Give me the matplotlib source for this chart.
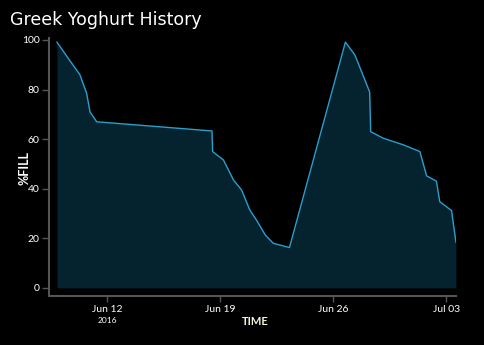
import pandas as pd
import matplotlib
matplotlib.use('Agg')
import matplotlib.pyplot as plt

# Readings taken off the chart
times = [
    '2016-06-08 22:00', '2016-06-09 17:30', '2016-06-10 08:00', '2016-06-10 18:00',
    '2016-06-10 23:00', '2016-06-11 09:00', '2016-06-18 12:00', '2016-06-18 13:00',
    '2016-06-19 05:00', '2016-06-19 20:00', '2016-06-20 08:00', '2016-06-20 20:00',
    '2016-06-21 06:00', '2016-06-21 19:00', '2016-06-22 07:00', '2016-06-23 07:00',
    '2016-06-26 18:00', '2016-06-27 08:00', '2016-06-27 18:00', '2016-06-28 06:00',
    '2016-06-28 07:30', '2016-06-29 02:00', '2016-06-30 08:00', '2016-07-01 08:30',
    '2016-07-01 18:30', '2016-07-02 09:00', '2016-07-02 14:00', '2016-07-03 07:30',
    '2016-07-03 14:00',
]
fill_pct = [
    99.1, 91.5, 86.0, 78.5, 71.0, 67.0, 63.3, 55.0,
    51.6, 43.5, 39.5, 31.5, 27.4, 21.4, 18.0, 16.3,
    99.1, 94.0, 87.2, 79.0, 63.0, 60.4, 57.7, 55.0,
    45.2, 43.1, 34.8, 31.2, 18.5,
]
yticks = [0, 20, 40, 60, 80, 100]
xticks = ['2016-06-12', '2016-06-19', '2016-06-26', '2016-07-03']
xtick_labels = ['Jun 12', 'Jun 19', 'Jun 26', 'Jul 03']

df = pd.DataFrame({'time': pd.to_datetime(times), 'fill': fill_pct})

plt.rcParams['font.family'] = ['Lato', 'DejaVu Sans']

fig = plt.figure(figsize=(4.84, 3.45), dpi=100, facecolor='black')
ax = fig.add_axes([0.101, 0.143, 0.841, 0.747], facecolor='black')

ax.fill_between(df['time'], df['fill'], 0, color='#05222f', linewidth=0)
ax.plot(df['time'], df['fill'], color='#2a9fcc', linewidth=1.0)

ax.set_ylim(-3.1, 100.8)
ax.set_xlim(df['time'].iloc[0] - pd.Timedelta(hours=12), df['time'].iloc[-1])

ax.set_yticks(yticks)
ax.set_xticks(pd.to_datetime(xticks))
ax.set_xticklabels(xtick_labels)

for side in ['top', 'right']:
    ax.spines[side].set_visible(False)
for side in ['left', 'bottom']:
    ax.spines[side].set_color('#555555')
    ax.spines[side].set_linewidth(1.5)

ax.tick_params(colors='#555555', labelcolor='white', labelsize=7.5, length=5, width=1)
ax.tick_params(axis='y', pad=1.5)
ax.tick_params(axis='x', pad=3, length=4)

# axis labels and title placed as in the reference
fig.text(0.05, 0.513, '%FILL', color='white', fontsize=9, fontweight='bold',
         rotation=90, ha='center', va='center')
fig.text(0.528, 0.067, 'TIME', color='#f4f2dc', fontsize=8, fontweight='bold',
         ha='center', va='center')
fig.text(0.221, 0.07, '2016', color='white', fontsize=6, ha='center', va='center')
fig.text(0.02, 0.942, 'Greek Yoghurt History', color='white', fontsize=12.5,
         family='DejaVu Sans', ha='left', va='center')

fig.savefig('out.png', dpi=100, facecolor='black')
